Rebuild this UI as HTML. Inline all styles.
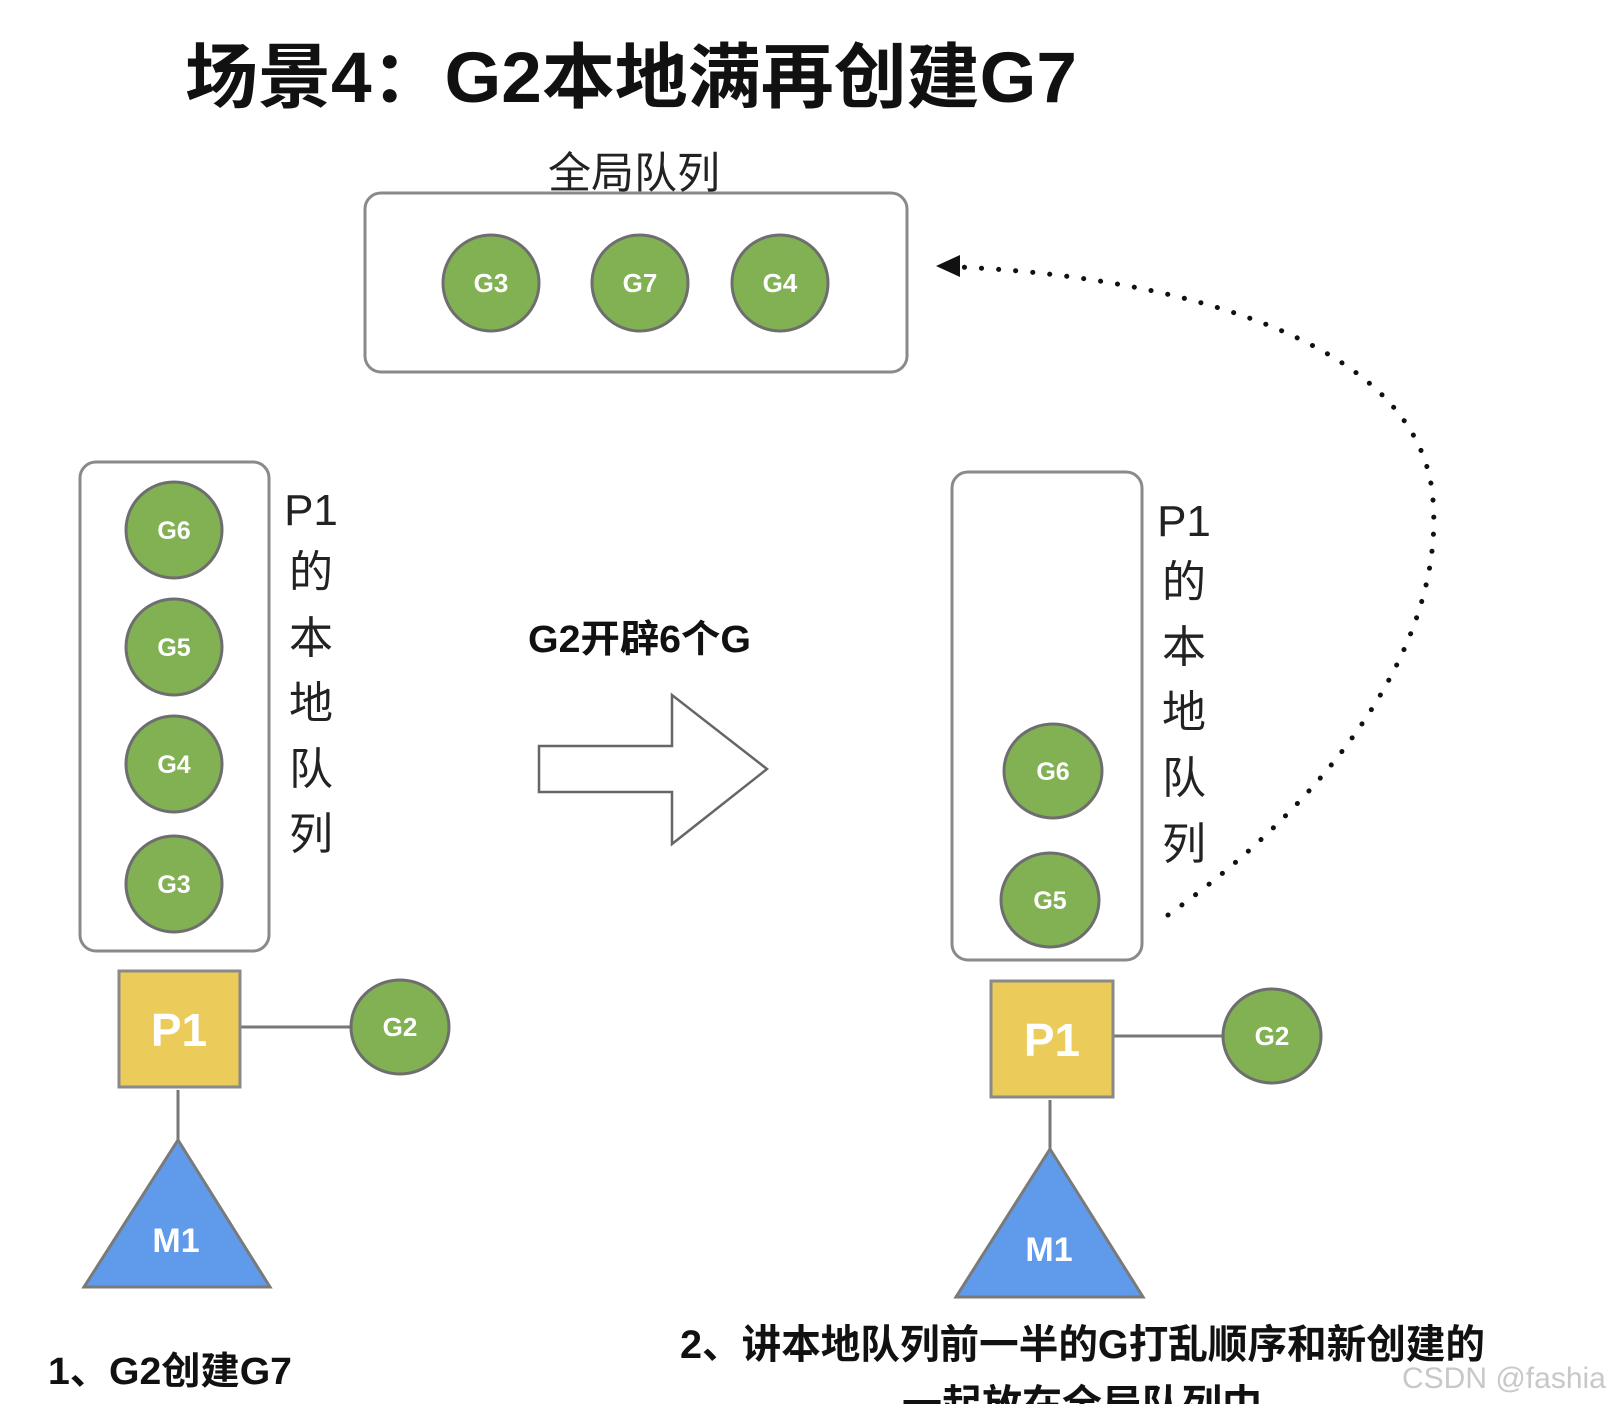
<!DOCTYPE html>
<html><head><meta charset="utf-8"><style>
html,body{margin:0;padding:0;background:#fff;}
body{width:1606px;height:1404px;overflow:hidden;}
svg text{font-family:"Liberation Sans","Noto Sans CJK SC",sans-serif;}
</style></head><body>
<svg width="1606" height="1404" viewBox="0 0 1606 1404" xmlns="http://www.w3.org/2000/svg">
<text x="185" y="102" font-size="71" font-weight="bold" fill="#111" textLength="892" lengthAdjust="spacingAndGlyphs">场景4：G2本地满再创建G7</text>
<text x="548" y="188" font-size="43" fill="#222">全局队列</text>
<rect x="365" y="193" width="542" height="179" rx="16" fill="#fff" stroke="#8a8a8a" stroke-width="3"/>
<g stroke="#6e6e6e" stroke-width="3" fill="#82b154">
<circle cx="491" cy="283" r="48"/>
<circle cx="640" cy="283" r="48"/>
<circle cx="780" cy="283" r="48"/>
</g>
<g fill="#fff" font-size="26" font-weight="bold" text-anchor="middle">
<text x="491" y="292">G3</text><text x="640" y="292">G7</text><text x="780" y="292">G4</text>
</g>
<rect x="80" y="462" width="189" height="489" rx="16" fill="#fff" stroke="#8a8a8a" stroke-width="3"/>
<g stroke="#6e6e6e" stroke-width="3" fill="#82b154">
<circle cx="174" cy="530" r="48"/><circle cx="174" cy="647" r="48"/>
<circle cx="174" cy="764" r="48"/><circle cx="174" cy="884" r="48"/>
</g>
<g fill="#fff" font-size="25" font-weight="bold" text-anchor="middle">
<text x="174" y="539">G6</text><text x="174" y="656">G5</text><text x="174" y="773">G4</text><text x="174" y="893">G3</text>
</g>
<g font-size="44" fill="#222" text-anchor="middle">
<text x="311" y="525">P1</text><text x="311" y="587">的</text><text x="311" y="653">本</text>
<text x="311" y="718">地</text><text x="311" y="784">队</text><text x="311" y="849">列</text>
</g>
<line x1="240" y1="1027" x2="352" y2="1027" stroke="#777" stroke-width="3"/>
<line x1="178" y1="1090" x2="178" y2="1140" stroke="#777" stroke-width="3"/>
<rect x="119" y="971" width="121" height="116" fill="#ebcb5a" stroke="#8a8a8a" stroke-width="3"/>
<text x="179" y="1046" font-size="46" font-weight="bold" fill="#fff" text-anchor="middle">P1</text>
<ellipse cx="400" cy="1027" rx="49" ry="47" fill="#82b154" stroke="#6e6e6e" stroke-width="3"/>
<text x="400" y="1036" font-size="26" font-weight="bold" fill="#fff" text-anchor="middle">G2</text>
<polygon points="178,1140 270,1287 84,1287" fill="#5f9bea" stroke="#7a7a7a" stroke-width="3"/>
<text x="176" y="1252" font-size="34" font-weight="bold" fill="#fff" text-anchor="middle">M1</text>
<text x="48" y="1384" font-size="38" font-weight="bold" fill="#111" textLength="244" lengthAdjust="spacingAndGlyphs">1、G2创建G7</text>
<text x="528" y="652" font-size="38" font-weight="bold" fill="#111" textLength="223" lengthAdjust="spacingAndGlyphs">G2开辟6个G</text>
<polygon points="539,746 672,746 672,695 767,769 672,844 672,792 539,792" fill="#fff" stroke="#666" stroke-width="2.5"/>
<rect x="952" y="472" width="190" height="488" rx="16" fill="#fff" stroke="#8a8a8a" stroke-width="3"/>
<g stroke="#6e6e6e" stroke-width="3" fill="#82b154">
<ellipse cx="1053" cy="771" rx="49" ry="47"/><ellipse cx="1050" cy="900" rx="49" ry="47"/>
</g>
<g fill="#fff" font-size="25" font-weight="bold" text-anchor="middle">
<text x="1053" y="780">G6</text><text x="1050" y="909">G5</text>
</g>
<g font-size="44" fill="#222" text-anchor="middle">
<text x="1184" y="536">P1</text><text x="1184" y="597">的</text><text x="1184" y="662">本</text>
<text x="1184" y="727">地</text><text x="1184" y="793">队</text><text x="1184" y="859">列</text>
</g>
<line x1="1113" y1="1036" x2="1224" y2="1036" stroke="#777" stroke-width="3"/>
<line x1="1050" y1="1100" x2="1050" y2="1150" stroke="#777" stroke-width="3"/>
<rect x="991" y="981" width="122" height="116" fill="#ebcb5a" stroke="#8a8a8a" stroke-width="3"/>
<text x="1052" y="1056" font-size="46" font-weight="bold" fill="#fff" text-anchor="middle">P1</text>
<ellipse cx="1272" cy="1036" rx="49" ry="47" fill="#82b154" stroke="#6e6e6e" stroke-width="3"/>
<text x="1272" y="1045" font-size="26" font-weight="bold" fill="#fff" text-anchor="middle">G2</text>
<polygon points="1050,1149 1143,1297 956,1297" fill="#5f9bea" stroke="#7a7a7a" stroke-width="3"/>
<text x="1049" y="1261" font-size="34" font-weight="bold" fill="#fff" text-anchor="middle">M1</text>
<path d="M1168,915 C1330,800 1450,640 1432,490 C1410,330 1150,275 958,267" fill="none" stroke="#111" stroke-width="5" stroke-linecap="round" stroke-dasharray="0.1 17"/>
<polygon points="936,266 960,255 960,277" fill="#111"/>
<text x="680" y="1358" font-size="40" font-weight="bold" fill="#111" textLength="805" lengthAdjust="spacingAndGlyphs">2、讲本地队列前一半的G打乱顺序和新创建的</text>
<text x="902" y="1418" font-size="40" font-weight="bold" fill="#111">一起放在全局队列中</text>
<text x="1402" y="1388" font-size="30" fill="#c8c8c8">CSDN @fashia</text>
</svg>
</body></html>
